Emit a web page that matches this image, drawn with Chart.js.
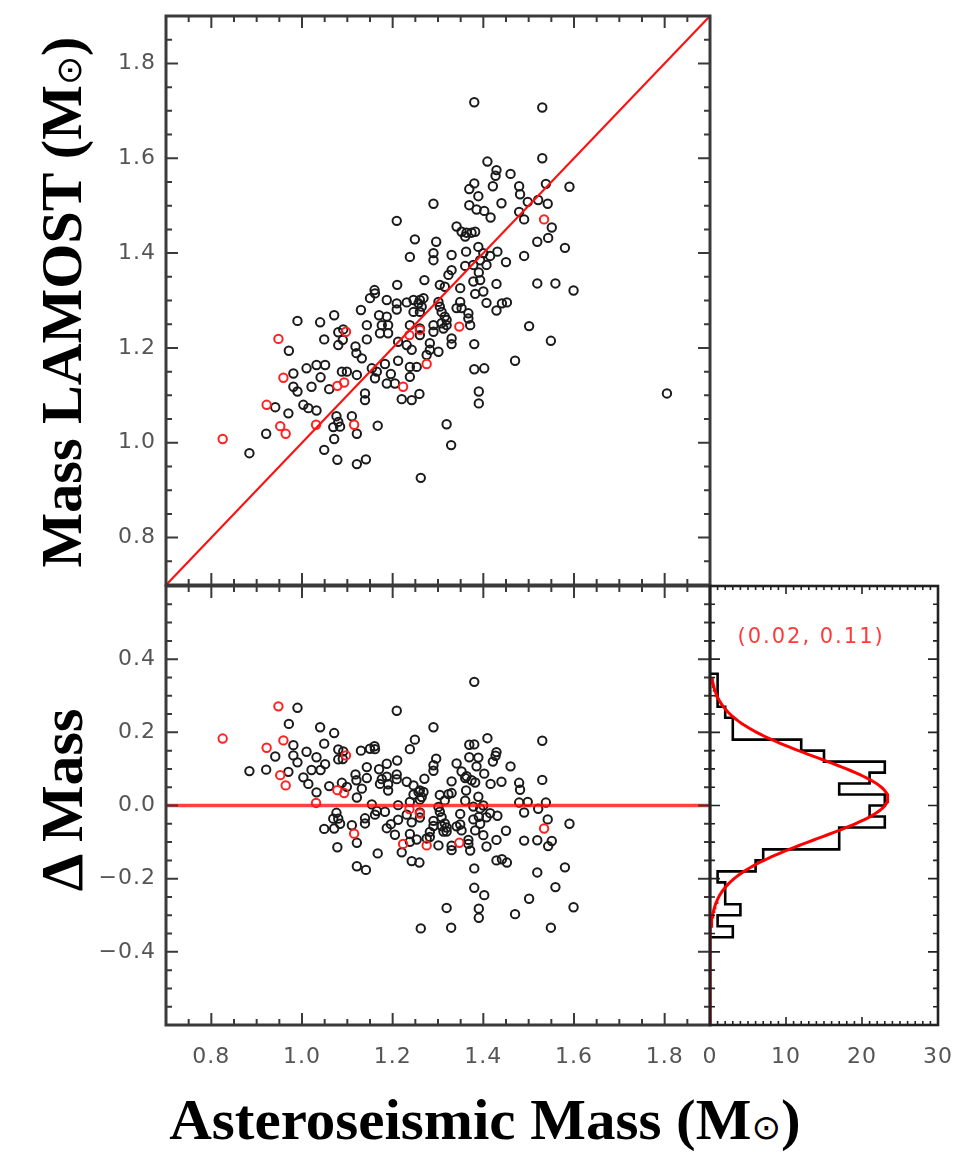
<!DOCTYPE html>
<html><head><meta charset="utf-8">
<script src="https://cdn.jsdelivr.net/npm/chart.js@4.4.0/dist/chart.umd.min.js"></script>
<style>
html,body{margin:0;padding:0;background:#fff;}
body{width:963px;height:1152px;position:relative;overflow:hidden;}
canvas{position:absolute;}
.t{position:absolute;font-family:"Liberation Serif","Times New Roman",serif;font-weight:bold;color:#000;white-space:nowrap;line-height:1;}
.sun{font-size:0.6em;font-family:"DejaVu Sans",sans-serif;font-weight:normal;color:#000;}
</style></head><body>
<canvas id="c1" width="720" height="590" style="left:0;top:0"></canvas>
<canvas id="c2" width="720" height="500" style="left:0;top:570px"></canvas>
<canvas id="c3" width="263" height="500" style="left:700px;top:570px"></canvas>
<div class="t" style="left:62px;top:302px;font-size:58px;transform:translate(-50%,-50%) rotate(-90deg)">Mass LAMOST (M<span class="sun">⊙</span>)</div>
<div class="t" style="left:62px;top:800px;font-size:60px;transform:translate(-50%,-50%) rotate(-90deg)">Δ Mass</div>
<div class="t" style="left:485px;top:1119px;font-size:57px;transform:translate(-50%,-50%) scaleX(1.035)">Asteroseismic Mass (M<span class="sun">⊙</span>)</div>
<script>
// ---------------- DATA ----------------
const astroBlack = [1.380,1.530,1.530,1.409,1.429,1.427,1.460,1.380,1.369,1.421,1.479,1.538,1.590,1.389,1.481,1.290,1.369,1.385,1.402,1.416,1.440,1.498,1.521,1.542,1.479,1.490,1.551,1.543,1.519,1.580,1.209,1.341,1.352,1.363,1.374,1.382,1.360,1.249,1.296,1.238,1.290,1.290,1.330,1.362,1.389,1.400,1.415,1.431,1.490,1.450,1.393,1.378,1.360,1.330,1.323,1.390,1.407,1.270,1.304,1.315,1.378,1.393,1.429,1.519,1.559,1.210,
1.349,1.599,1.400,1.382,1.407,1.441,1.452,1.429,1.501,1.549,1.470,1.380,1.380,1.402,1.390,1.390,1.319,1.167,1.187,1.209,1.231,1.246,1.260,1.268,1.257,1.264,1.209,1.246,1.260,1.304,1.308,1.301,1.349,1.341,1.352,1.367,1.367,1.187,1.190,1.238,1.260,1.260,1.290,1.308,1.319,1.312,1.371,1.315,1.319,1.290,1.330,1.330,1.282,1.282,1.301,1.212,1.231,1.242,1.275,1.253,1.238,1.238,1.212,1.183,1.196,1.187,1.205,1.259,1.242,1.220,
0.971,0.990,1.040,1.071,1.049,1.080,1.091,1.080,1.090,1.130,1.150,1.161,1.143,1.143,1.170,1.176,1.172,1.190,1.118,1.120,1.132,1.010,1.032,1.051,1.041,1.088,1.099,1.121,1.154,1.165,1.161,0.981,0.981,0.990,1.021,1.060,1.139,1.139,0.941,0.970,1.003,1.014,1.032,1.076,1.080,1.069,1.084,1.110,1.121,1.071,0.921,0.884,1.049,1.078,1.121,1.141,
1.329,1.262,1.805,1.160];
const lamostBlack = [1.718,1.707,1.600,1.593,1.575,1.563,1.567,1.547,1.535,1.541,1.541,1.546,1.540,1.520,1.524,1.504,1.501,1.492,1.489,1.475,1.505,1.508,1.512,1.504,1.487,1.471,1.454,1.432,1.424,1.411,1.468,1.456,1.445,1.443,1.443,1.445,1.435,1.429,1.424,1.392,1.400,1.385,1.396,1.403,1.413,1.400,1.394,1.403,1.394,1.381,1.385,1.375,1.373,1.364,1.354,1.359,1.375,1.343,1.333,1.329,1.340,1.343,1.335,1.336,1.336,1.333,
1.326,1.321,1.319,1.314,1.295,1.294,1.296,1.279,1.246,1.215,1.173,1.208,1.155,1.157,1.108,1.083,1.039,1.036,1.301,1.294,1.296,1.301,1.301,1.305,1.294,1.287,1.281,1.276,1.276,1.287,1.276,1.297,1.297,1.284,1.284,1.273,1.262,1.266,1.248,1.248,1.241,1.227,1.248,1.252,1.248,1.241,1.248,1.266,1.259,1.234,1.220,1.208,1.210,1.196,1.192,1.213,1.206,1.196,1.185,1.160,1.160,1.139,1.173,1.166,1.145,1.125,1.125,1.103,1.090,1.092,
1.194,1.257,1.254,1.269,1.218,1.233,1.239,1.206,1.217,1.280,1.305,1.315,1.248,1.218,1.269,1.248,1.231,1.231,1.203,1.189,1.178,1.157,1.164,1.164,1.138,1.150,1.150,1.143,1.157,1.150,1.136,1.146,1.118,1.108,1.118,1.113,1.104,1.090,1.075,1.062,1.080,1.073,1.068,1.056,1.044,1.033,1.034,1.056,1.019,1.008,1.019,0.978,0.985,0.964,0.955,0.965,
0.995,0.926,1.104,1.322];
const astroRed  = [0.825,0.922,0.948,0.952,0.959,0.964,1.031,1.078,1.093,1.097,1.115,1.223,1.237,1.260,1.275,1.347,1.534];
const lamostRed = [1.008,1.080,1.219,1.035,1.137,1.019,1.038,1.120,1.127,1.234,1.038,1.118,1.227,1.238,1.166,1.245,1.471];

// histogram of Delta Mass (bin lower edges, top to bottom) and counts
const histBinLow = [0.33,0.30,0.27,0.24,0.21,0.18,0.15,0.12,0.09,0.06,0.03,0.00,-0.03,-0.06,-0.09,-0.12,-0.15,-0.18,-0.21,-0.24,-0.27,-0.30,-0.33,-0.36];
const histCounts = [1,1,1,2,3,3,12,15,23,21,17,23,21,23,17,17,7,6,1,2,2,4,1,3];
const histBinWidth = 0.03;
// gaussian fit (mean, sigma) and its peak
const fitMean = 0.02, fitSigma = 0.11, fitPeak = 23.4;
const fitLabel = '(0.02, 0.11)';

// tick labels
const xTicks = [0.8,1.0,1.2,1.4,1.6,1.8];
const yTicksTop = [0.8,1.0,1.2,1.4,1.6,1.8];
const yTicksDelta = [-0.4,-0.2,0.0,0.2,0.4];
const xTicksHist = [0,10,20,30];

// ---------------- BUILD ----------------
const ptsBlack = astroBlack.map((x,i)=>({x, y: lamostBlack[i]}));
const ptsRed = astroRed.map((x,i)=>({x, y: lamostRed[i]}));
const dBlack = astroBlack.map((x,i)=>({x, y: +(lamostBlack[i]-x).toFixed(3)}));
const dRed = astroRed.map((x,i)=>({x, y: +(lamostRed[i]-x).toFixed(3)}));

const histPts = [{x:0, y: histBinLow[0]+histBinWidth}];
histBinLow.forEach((lo,i)=>{ histPts.push({x:histCounts[i], y:+(lo+histBinWidth).toFixed(3)}); histPts.push({x:histCounts[i], y:lo}); });
histPts.push({x:0, y: histBinLow[histBinLow.length-1]});

const gaussPts = [];
for (let k=0; k<=190; k++) { const y = -0.6 + k*0.005; gaussPts.push({x: fitPeak*Math.exp(-((y-fitMean)**2)/(2*fitSigma*fitSigma)), y}); }

const fmt = v => (v<0?'\u2212':'') + Math.abs(v).toFixed(1);
const tickFont = {family:'"DejaVu Sans", sans-serif', size:22};
const tickColor = '#555';

const seq = (min,max,step)=>{const r=[];const n=Math.round((max-min)/step);for(let i=0;i<=n;i++)r.push(+(min+i*step).toFixed(6));return r;};
const isMult = (v,s)=>Math.abs(v/s-Math.round(v/s))<1e-6;
const noPad = s => { s.paddingTop=0; s.paddingBottom=0; s.paddingLeft=0; s.paddingRight=0; };

const frameTicks = {
  id:'frameTicks',
  beforeDraw(chart){ chart.ctx.letterSpacing = '1px'; },
  afterDatasetsDraw(chart, args, o){
    const {ctx, chartArea:a, scales} = chart;
    const xs = scales.x, ys = scales.y;
    ctx.save();
    ctx.strokeStyle = o.color; ctx.lineWidth = o.tickWidth; ctx.lineCap='butt';
    seq(xs.min, xs.max, o.xMinor).forEach(v=>{
      const L = isMult(v,o.xMajor)? o.xMajorLen : o.xMinorLen;
      const p = xs.getPixelForValue(v);
      ctx.beginPath();
      ctx.moveTo(p,a.bottom); ctx.lineTo(p,a.bottom-L);
      ctx.moveTo(p,a.top); ctx.lineTo(p,a.top+L);
      ctx.stroke();
    });
    seq(ys.min, ys.max, o.yMinor).forEach(v=>{
      const L = isMult(v,o.yMajor)? o.yMajorLen : o.yMinorLen;
      const p = ys.getPixelForValue(v);
      ctx.beginPath();
      ctx.moveTo(a.left,p); ctx.lineTo(a.left+L,p);
      ctx.moveTo(a.right,p); ctx.lineTo(a.right-L,p);
      ctx.stroke();
    });
    ctx.lineWidth = o.frameWidth;
    ctx.strokeRect(a.left, a.top, a.width, a.height);
    if (o.label) {
      ctx.fillStyle = o.labelColor; ctx.font = o.labelFont; ctx.textAlign='center'; ctx.textBaseline='middle';
      ctx.letterSpacing = '2px';
      ctx.fillText(o.label, xs.getPixelForValue(o.labelX), ys.getPixelForValue(o.labelY));
    }
    ctx.restore();
  }
};

const markerBase = {pointStyle:'circle', pointRadius:4.2, pointHoverRadius:4.2, borderWidth:2, backgroundColor:'rgba(0,0,0,0)'};
const common = {responsive:false, animation:false, devicePixelRatio:1, events:[]};

// Top panel
new Chart(document.getElementById('c1'), {
  type:'scatter',
  data:{datasets:[
    {type:'line', showLine:true, data:[{x:0.7,y:0.7},{x:1.9,y:1.9}], borderColor:'#ff1010', borderWidth:2.2, pointRadius:0, fill:false},
    Object.assign({data:ptsRed, borderColor:'#ff2020'}, markerBase),
    Object.assign({data:ptsBlack, borderColor:'#1a1a1a'}, markerBase)
  ]},
  options:Object.assign({}, common, {
    layout:{autoPadding:false, padding:{left:0,top:16,right:10,bottom:5}},
    plugins:{legend:{display:false}, tooltip:{enabled:false},
      frameTicks:{color:'#3a3a3a', tickWidth:2, frameWidth:3, xMinor:0.05, xMajor:0.2, xMajorLen:12, xMinorLen:6, yMinor:0.05, yMajor:0.2, yMajorLen:12, yMinorLen:6}},
    scales:{
      x:{type:'linear', min:0.7, max:1.9, ticks:{display:false}, grid:{display:false}, border:{display:false}, afterFit(s){s.height=0; noPad(s);}},
      y:{type:'linear', min:0.7, max:1.9, afterBuildTicks(s){s.ticks=yTicksTop.map(v=>({value:v}));},
         ticks:{font:tickFont, color:tickColor, padding:10, callback:fmt}, grid:{display:false, drawTicks:false}, border:{display:false}, afterFit(s){s.width=166; noPad(s);}}
    }
  }),
  plugins:[frameTicks]
});

// Delta panel
new Chart(document.getElementById('c2'), {
  type:'scatter',
  data:{datasets:[
    {type:'line', showLine:true, data:[{x:0.7,y:0},{x:1.9,y:0}], borderColor:'rgba(255,20,20,0.8)', borderWidth:3.5, pointRadius:0, fill:false},
    Object.assign({data:dRed, borderColor:'#ff2020'}, markerBase),
    Object.assign({data:dBlack, borderColor:'#1a1a1a'}, markerBase)
  ]},
  options:Object.assign({}, common, {
    layout:{autoPadding:false, padding:{left:0,top:16,right:10,bottom:0}},
    plugins:{legend:{display:false}, tooltip:{enabled:false},
      frameTicks:{color:'#3a3a3a', tickWidth:2, frameWidth:3, xMinor:0.05, xMajor:0.2, xMajorLen:12, xMinorLen:6, yMinor:0.05, yMajor:0.2, yMajorLen:12, yMinorLen:6}},
    scales:{
      x:{type:'linear', min:0.7, max:1.9, afterBuildTicks(s){s.ticks=xTicks.map(v=>({value:v}));},
         ticks:{font:tickFont, color:tickColor, padding:19, maxRotation:0, callback:fmt}, grid:{display:false, drawTicks:false}, border:{display:false}, afterFit(s){s.height=45; noPad(s);}},
      y:{type:'linear', min:-0.6, max:0.6, afterBuildTicks(s){s.ticks=yTicksDelta.map(v=>({value:v}));},
         ticks:{font:tickFont, color:tickColor, padding:10, callback:fmt}, grid:{display:false, drawTicks:false}, border:{display:false}, afterFit(s){s.width=166; noPad(s);}}
    }
  }),
  plugins:[frameTicks]
});

// Histogram panel
new Chart(document.getElementById('c3'), {
  type:'scatter',
  data:{datasets:[
    {type:'line', showLine:true, data:gaussPts, borderColor:'#ff0000', borderWidth:3, pointRadius:0, fill:false, tension:0},
    {type:'line', showLine:true, data:histPts, borderColor:'#000', borderWidth:2.6, pointRadius:0, fill:false, tension:0}
  ]},
  options:Object.assign({}, common, {
    layout:{autoPadding:false, padding:{left:10,top:16,right:25,bottom:0}},
    plugins:{legend:{display:false}, tooltip:{enabled:false},
      frameTicks:{color:'#222', tickWidth:1.6, frameWidth:2.6, xMinor:1, xMajor:10, xMajorLen:8, xMinorLen:4, yMinor:0.05, yMajor:0.2, yMajorLen:10, yMinorLen:5,
        label:fitLabel, labelX:13.3, labelY:0.46, labelColor:'#ff3a3a', labelFont:'21px "DejaVu Sans", sans-serif'}},
    scales:{
      x:{type:'linear', min:0, max:30, afterBuildTicks(s){s.ticks=xTicksHist.map(v=>({value:v}));},
         ticks:{font:tickFont, color:tickColor, padding:19, maxRotation:0, callback:v=>String(v)}, grid:{display:false, drawTicks:false}, border:{display:false}, afterFit(s){s.height=45; noPad(s);}},
      y:{type:'linear', min:-0.6, max:0.6, display:false}
    }
  }),
  plugins:[frameTicks]
});
</script>
</body></html>
